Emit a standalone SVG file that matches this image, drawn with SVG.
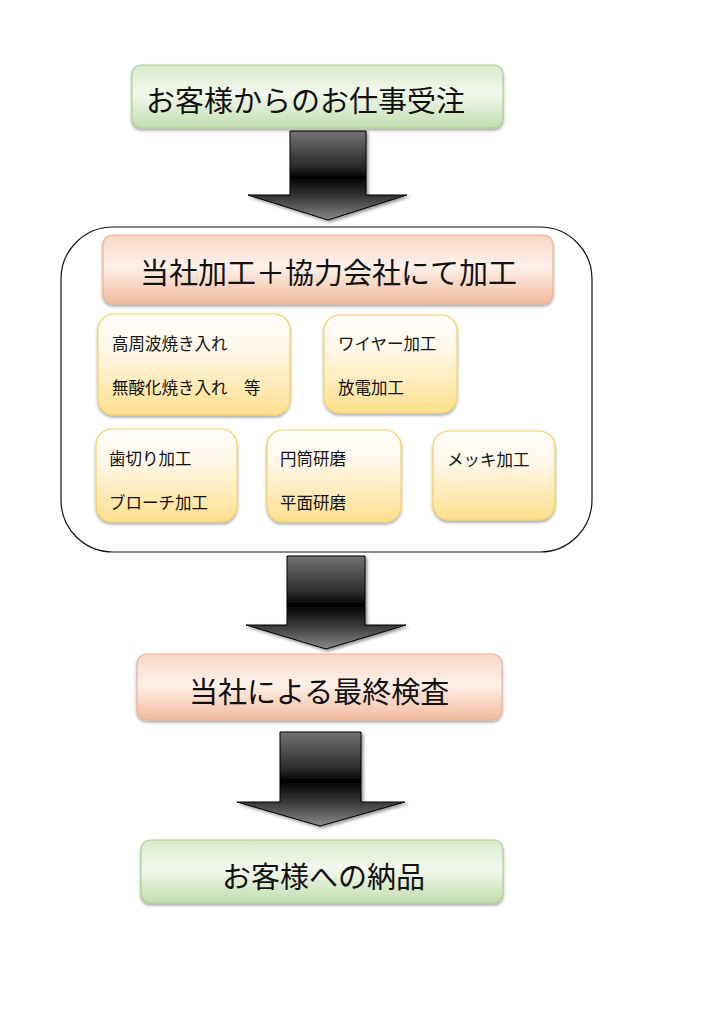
<svg xmlns="http://www.w3.org/2000/svg" width="723" height="1024" viewBox="0 0 723 1024">
<defs>
<linearGradient id="gGreen" x1="0" y1="0" x2="0" y2="1">
<stop offset="0" stop-color="#d9eacb"/>
<stop offset="0.45" stop-color="#f3f8ee"/>
<stop offset="1" stop-color="#c2ddae"/>
</linearGradient>
<linearGradient id="gOrange" x1="0" y1="0" x2="0" y2="1">
<stop offset="0" stop-color="#f9d7c6"/>
<stop offset="0.45" stop-color="#fdf1ea"/>
<stop offset="1" stop-color="#f4bb9d"/>
</linearGradient>
<linearGradient id="gYellow" x1="0" y1="0" x2="0" y2="1">
<stop offset="0" stop-color="#fffefc"/>
<stop offset="0.35" stop-color="#fff8ea"/>
<stop offset="1" stop-color="#ffdf8c"/>
</linearGradient>
<linearGradient id="gArrow" x1="0" y1="0" x2="0" y2="1">
<stop offset="0" stop-color="#737373"/>
<stop offset="0.4" stop-color="#2a2a2a"/>
<stop offset="0.52" stop-color="#000"/>
<stop offset="0.75" stop-color="#3a3a3a"/>
<stop offset="1" stop-color="#8a8a8a"/>
</linearGradient>
<filter id="sh" x="-10%" y="-10%" width="120%" height="130%">
<feDropShadow dx="0" dy="2" stdDeviation="1.5" flood-color="#000" flood-opacity="0.35"/>
</filter>
<filter id="ash" x="-10%" y="-10%" width="125%" height="125%">
<feDropShadow dx="2" dy="2" stdDeviation="1.5" flood-color="#000" flood-opacity="0.4"/>
</filter>
</defs>
<style>
.green{fill:url(#gGreen);stroke:#a9cf90;stroke-width:1.2;filter:url(#sh)}
.orange{fill:url(#gOrange);stroke:#f2b193;stroke-width:1.2;filter:url(#sh)}
.yellow{fill:url(#gYellow);stroke:#f8d05a;stroke-width:1.2;filter:url(#sh)}
.arrow{fill:url(#gArrow);stroke:#000;stroke-width:1;filter:url(#ash)}
.big{font-family:"Noto Sans CJK JP","Noto Sans CJK SC",sans-serif;font-size:29px;fill:#111}
.small{font-family:"Noto Sans CJK JP","Noto Sans CJK SC",sans-serif;font-size:16.5px;fill:#111}
</style>
<rect width="723" height="1024" fill="#fff"/>

<g id="container">
<rect x="61" y="227" width="531" height="325" rx="52" ry="52" fill="#fff" stroke="#111" stroke-width="1.2"/>
</g>

<g id="connectors">
<polygon class="arrow" points="290,131 366,131 366,195 407,195 328,220 248,195 290,195"/>
<polygon class="arrow" points="287,556 365,556 365,625 406,625 326,649 246,625 287,625"/>
<polygon class="arrow" points="280,732 361,732 361,802 405,802 320,826 237,802 280,802"/>
</g>

<g id="n1">
<rect class="green" x="132" y="65" width="371" height="63" rx="9"/>
<text class="big" x="146" y="112">お客様からのお仕事受注</text>
</g>

<g id="n2">
<rect class="orange" x="103" y="235" width="450" height="69" rx="10"/>
<text class="big" x="140" y="284">当社加工＋協力会社にて加工</text>
</g>

<g id="n3">
<rect class="yellow" x="98" y="314" width="192" height="101" rx="16"/>
<text class="small" x="112" y="350">高周波焼き入れ</text>
<text class="small" x="112" y="394">無酸化焼き入れ　等</text>
</g>

<g id="n4">
<rect class="yellow" x="324" y="315" width="133" height="98" rx="16"/>
<text class="small" x="338" y="350">ワイヤー加工</text>
<text class="small" x="338" y="394">放電加工</text>
</g>

<g id="n5">
<rect class="yellow" x="96" y="429" width="141" height="93" rx="16"/>
<text class="small" x="109" y="465">歯切り加工</text>
<text class="small" x="109" y="509">ブローチ加工</text>
</g>

<g id="n6">
<rect class="yellow" x="267" y="430" width="134" height="92" rx="16"/>
<text class="small" x="280" y="465">円筒研磨</text>
<text class="small" x="280" y="509">平面研磨</text>
</g>

<g id="n7">
<rect class="yellow" x="433" y="431" width="122" height="89" rx="16"/>
<text class="small" x="447" y="466">メッキ加工</text>
</g>

<g id="n8">
<rect class="orange" x="137" y="654" width="365" height="66" rx="10"/>
<text class="big" x="189" y="703">当社による最終検査</text>
</g>

<g id="n9">
<rect class="green" x="141" y="840" width="362" height="63" rx="9"/>
<text class="big" x="222" y="888">お客様への納品</text>
</g>
</svg>
